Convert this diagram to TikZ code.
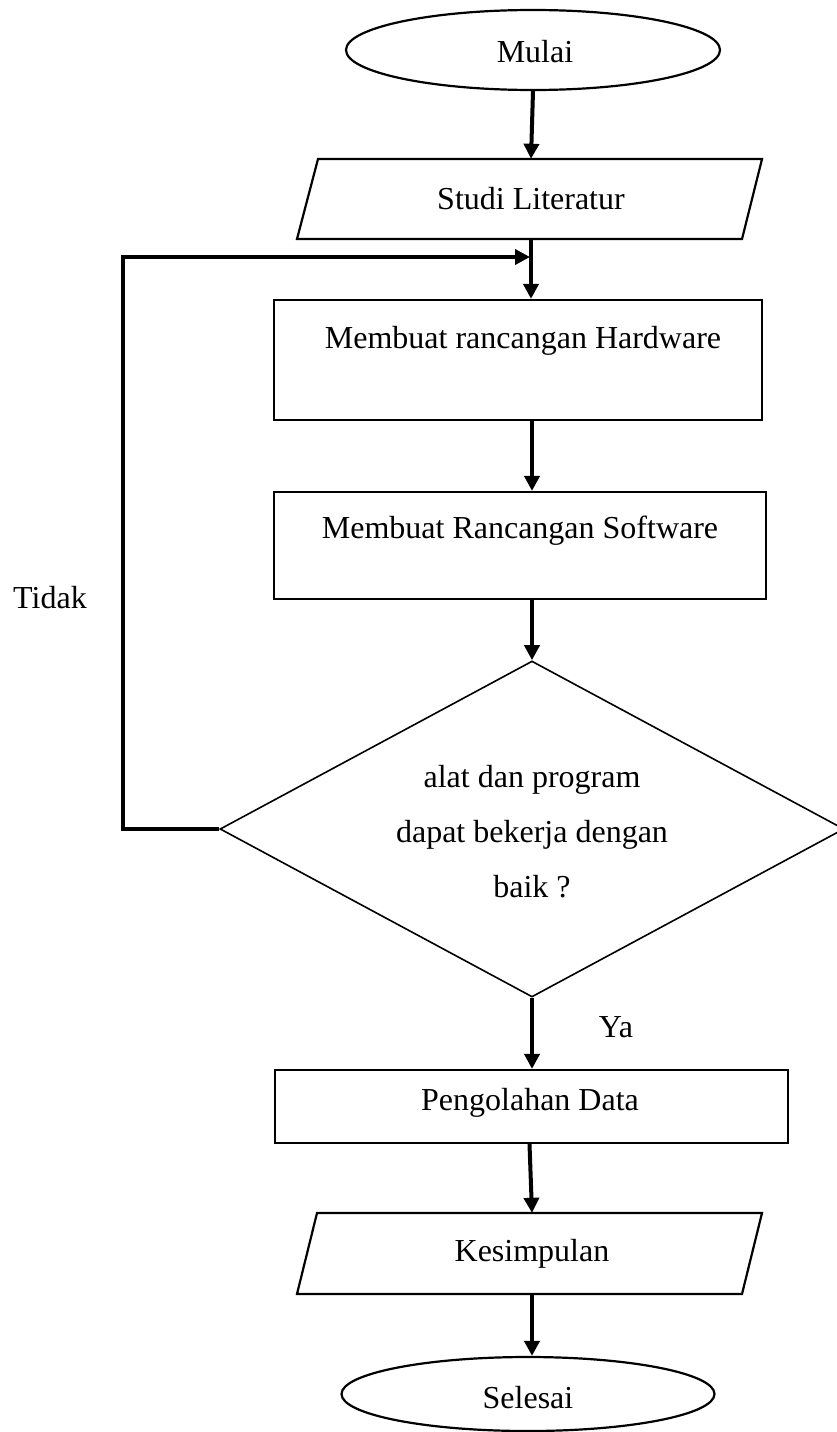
\documentclass[tikz,border=0pt]{standalone}
\usepackage{fontspec}
\setmainfont{Liberation Serif}
\usetikzlibrary{shapes.geometric,arrows.meta}
\tikzset{
  txt/.style={font=\fontsize{32}{55}\selectfont, inner sep=0pt},
  outline/.style={draw=black, line width=2.2pt},
  term/.style={outline, ellipse, inner sep=0pt, txt},
  procbox/.style={outline, rectangle, inner sep=0pt},
  iotext/.style={txt, minimum width=10pt},
  arr/.style={line width=4pt, -{Triangle[length=15pt,width=15pt]}},
  decis/.style={draw=black, line width=1.6pt, diamond, inner sep=0pt, txt, align=center}
}
\begin{document}
\begin{tikzpicture}[x=1pt,y=-1pt]
\fill[white] (0,0) rectangle (837,1432);
\useasboundingbox (0,0) rectangle (837,1432);

% Mulai
\node[term, minimum width=374pt, minimum height=80pt] (mulai) at (533,50) {};
\node[txt] (mulait) at (535,52) {Mulai};

% Studi Literatur (parallelogram)
\draw[outline, line join=miter] (297,239) -- (742,239) -- (762,159) -- (318,159) -- cycle;
\node[iotext, minimum height=80pt] (studi) at (531,199) {Studi Literatur};

% Hardware box
\node[procbox, minimum width=488pt, minimum height=120pt] (hw) at (518,360) {};
\node[txt] (hwt) at (523,341) {Membuat rancangan Hardware};

% Software box
\node[procbox, minimum width=492pt, minimum height=107pt] (sw) at (520,545.5) {};
\node[txt] (swt) at (520,531) {Membuat Rancangan Software};

% Decision
\node[decis, minimum width=624pt, minimum height=336pt, aspect=1.857] (dec) at (532,829) {};
\node[txt, align=center] (dect) at (532,832) {alat dan program\\dapat bekerja dengan\\baik ?};

% Pengolahan Data
\node[procbox, minimum width=513pt, minimum height=73pt] (peng) at (531.5,1106.5) {};
\node[txt] (pengt) at (530,1103) {Pengolahan Data};

% Kesimpulan (parallelogram)
\draw[outline, line join=miter] (297,1294) -- (742,1294) -- (762,1213) -- (317,1213) -- cycle;
\node[iotext, minimum height=81pt] (kes) at (532,1253.5) {Kesimpulan};

% Selesai
\node[term, minimum width=373pt, minimum height=74pt] (sel) at (528,1394) {};
\node[txt] (selt) at (528,1398) {Selesai};

% Labels
\node[txt] (tidak) at (50,598) {Tidak};
\node[txt] (ya) at (616,1027) {Ya};

% Connectors
\draw[arr] (mulai.south) -- (studi.north);
\draw[arr] (studi.south) -- (studi.south |- hw.north);
\draw[arr] (hw.south -| dec.north) -- (sw.north -| dec.north);
\draw[arr] (sw.south -| dec.north) -- (dec.north);
\draw[arr] (dec.south) -- (dec.south |- peng.north);
\draw[arr] ([xshift=-2pt]peng.south) -- (kes.north);
\draw[arr] (kes.south) -- (kes.south |- sel.north);

% Loop back (Tidak)
\coordinate (corner) at (123,257);
\coordinate (lp) at (530,257);
\draw[arr, line join=miter] (dec.west) -| (corner) -- (lp);
\end{tikzpicture}
\end{document}
